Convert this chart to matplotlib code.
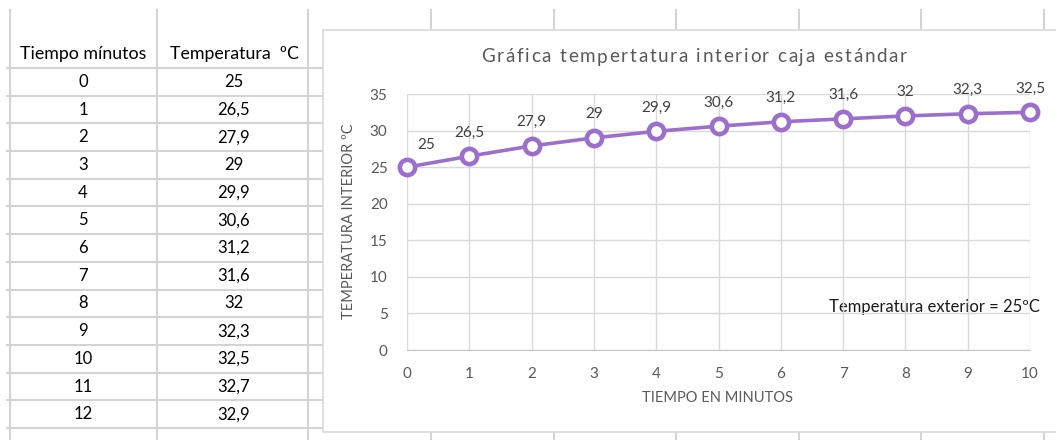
import numpy as np
import matplotlib
matplotlib.use("Agg")
import matplotlib.pyplot as plt
from matplotlib.patches import Rectangle
from matplotlib.font_manager import FontProperties

plt.rcParams['font.family'] = ['Lato', 'DejaVu Sans']

# data from the sheet
tiempo = [0, 1, 2, 3, 4, 5, 6, 7, 8, 9, 10, 11, 12]
temperatura = [25, 26.5, 27.9, 29, 29.9, 30.6, 31.2, 31.6, 32, 32.3, 32.5, 32.7, 32.9]
n_chart = 11  # the chart only shows minutes 0..10
col_headers = ["Tiempo mínutos", "Temperatura  ºC"]
chart_title = "Gráfica tempertatura interior caja estándar"
x_label = "TIEMPO EN MINUTOS"
y_label = "TEMPERATURA INTERIOR ºC"
note = "Temperatura exterior = 25ºC"
y_ticks = [0, 5, 10, 15, 20, 25, 30, 35]

W, H = 1056, 440
fig = plt.figure(figsize=(W / 100, H / 100), dpi=100)

# sheet layer in pixel coords
sheet = fig.add_axes([0, 0, 1, 1])
sheet.set_xlim(0, W)
sheet.set_ylim(H, 0)
sheet.axis('off')

grid_c = '#d4d4d4'
row_top = 68
row_h = 27.7
n_rows = len(tiempo) + 1
for k in range(n_rows + 1):
    y = row_top + k * row_h
    if y > H:
        break
    sheet.plot([7, 330], [y, y], color=grid_c, lw=1.5, zorder=1)
for x in [10, 157, 308]:
    sheet.plot([x, x], [10, H], color=grid_c, lw=1.5, zorder=1)
for x in [431, 553.5, 676, 798.5, 921, 1043.5]:
    sheet.plot([x, x], [10, H], color=grid_c, lw=1.5, zorder=1)

col_x = [83, 234]
for cx, txt in zip(col_x, col_headers):
    sheet.text(cx, 54, txt, ha='center', va='center', fontsize=12.8, color='black')
for i, (t, temp) in enumerate(zip(tiempo, temperatura)):
    yc = row_top + (i + 0.5) * row_h
    sheet.text(col_x[0], yc, str(t), ha='center', va='center', fontsize=12, color='black')
    sheet.text(col_x[1], yc, f"{temp:g}".replace('.', ','), ha='center', va='center',
               fontsize=12, color='black')

# chart area box
sheet.add_patch(Rectangle((323, 30), 760, 402, facecolor='white', edgecolor='#d9d9d9',
                          lw=1.2, zorder=3))

# title with letter spacing, placed char by char
renderer = fig.canvas.get_renderer()
tprop = FontProperties(family=['Lato', 'DejaVu Sans'], size=13.6)
spacing = 1.7
def text_w(s):
    w, _, _ = renderer.get_text_width_height_descent(s, tprop, ismath=False)
    return w
total = text_w(chart_title) + spacing * (len(chart_title) - 1)
x0 = 694 - total / 2
for i, ch in enumerate(chart_title):
    xi = x0 + text_w(chart_title[:i]) + spacing * i
    sheet.text(xi, 57, ch, ha='left', va='center', fontproperties=tprop,
               color='#595959', zorder=4)

sheet.text(718, 398, x_label, ha='center', va='center', fontsize=10.5,
           color='#595959', zorder=4)
sheet.text(349, 221, y_label, ha='center', va='center', rotation=90, fontsize=10.5,
           color='#595959', zorder=4)
sheet.text(1040, 307, note, ha='right', va='center', fontsize=12,
           color='#1a1a1a', zorder=4)

# plot area
ax = fig.add_axes([407 / W, (H - 350) / H, (1030 - 407) / W, (350 - 94) / H])
ax.set_facecolor('none')
ax.set_zorder(5)
xs = tiempo[:n_chart]
ys = temperatura[:n_chart]
purple = '#9d6fcc'
ax.plot(xs, ys, color=purple, lw=2.6, marker='o', markersize=11,
        markerfacecolor='white', markeredgecolor=purple, markeredgewidth=3.3,
        clip_on=False, zorder=4)
ax.set_xlim(0, 10)
ax.set_ylim(0, 35)
ax.set_xticks(xs)
ax.set_yticks(y_ticks)
ax.grid(True, color='#d9d9d9', lw=1.0)
ax.set_axisbelow(True)
for s in ['top', 'right', 'left']:
    ax.spines[s].set_visible(False)
ax.spines['bottom'].set_color('#c8c8c8')
ax.tick_params(length=0, labelsize=11, labelcolor='#595959', pad=12)
ax.tick_params(axis='y', pad=14)

for i, (x, y) in enumerate(zip(xs, ys)):
    lbl = f"{y:g}".replace('.', ',')
    if i == 0:
        ax.annotate(lbl, (x, y), xytext=(14, 16), textcoords='offset points',
                    ha='center', va='center', fontsize=11, color='#404040',
                    arrowprops=dict(arrowstyle='-', color='#a6a6a6', lw=0.8,
                                    shrinkA=6, shrinkB=4))
    else:
        ax.annotate(lbl, (x, y), xytext=(0, 17), textcoords='offset points',
                    ha='center', va='center', fontsize=11, color='#404040')

fig.savefig('out.png', dpi=100)
